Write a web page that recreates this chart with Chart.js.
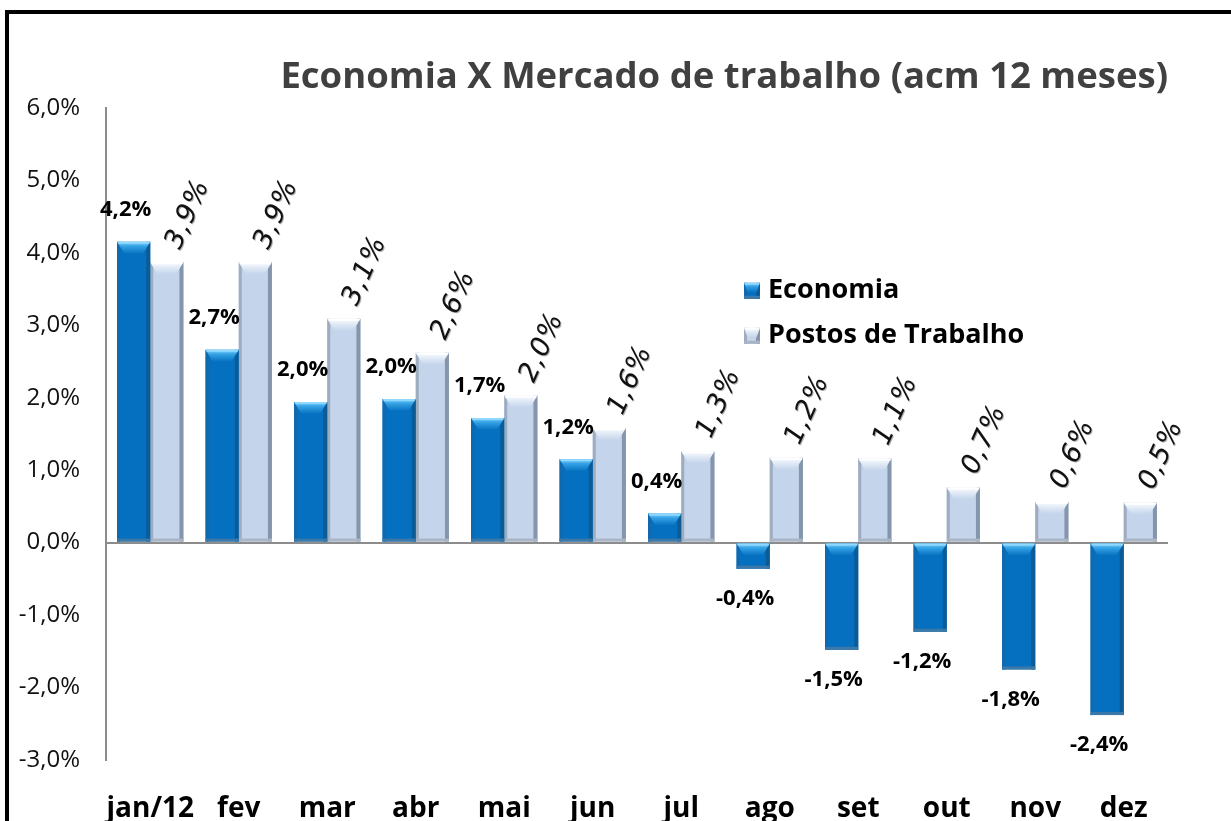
<!DOCTYPE html>
<html>
<head>
<meta charset="utf-8">
<script src="https://cdn.jsdelivr.net/npm/chart.js@4.4.1/dist/chart.umd.min.js"></script>
<style>
  html, body { margin: 0; padding: 0; background: #fff; overflow: hidden; }
  #wrap { position: relative; width: 1231px; height: 821px; }
  #frame { position: absolute; left: 5px; top: 10px; right: -10px; bottom: -10px;
           border-left: 4px solid #000; border-top: 4px solid #000; pointer-events: none; }
  canvas { position: absolute; left: 0; top: 0; }
</style>
</head>
<body>
<div id="wrap">
  <canvas id="mycanvas" width="1231" height="821"></canvas>
  <div id="frame"></div>
</div>
<script>
// chart data
const months = ["jan/12", "fev", "mar", "abr", "mai", "jun", "jul", "ago", "set", "out", "nov", "dez"];
const economia = [4.15, 2.66, 1.94, 1.98, 1.72, 1.15, 0.40, -0.36, -1.48, -1.23, -1.75, -2.38];
const economiaLabels = ["4,2%", "2,7%", "2,0%", "2,0%", "1,7%", "1,2%", "0,4%", "-0,4%", "-1,5%", "-1,2%", "-1,8%", "-2,4%"];
const postos = [3.87, 3.87, 3.09, 2.62, 2.03, 1.58, 1.26, 1.17, 1.16, 0.76, 0.56, 0.55];
const postosLabels = ["3,9%", "3,9%", "3,1%", "2,6%", "2,0%", "1,6%", "1,3%", "1,2%", "1,1%", "0,7%", "0,6%", "0,5%"];
const yTicks = [-3, -2, -1, 0, 1, 2, 3, 4, 5, 6];

const FONT = "'Open Sans', 'Liberation Sans', sans-serif";

// bevel colours per dataset
const bevel = [
  { main: "#0670c0", left: "#1168ab", right: "#0b5b97", hi: "#8fd8ff", mid: "#35a3e6", bottom: "#3c78a8" },
  { main: "#c4d4ea", left: "#9eacc0", right: "#8595ab", hi: "#ffffff", mid: "#e6eef8", bottom: "#a9b5c5" }
];

function drawBevelBar(ctx, left, right, top, bottom, s) {
  let w = right - left, h = bottom - top;
  if (h <= 0) return;
  ctx.fillStyle = s.left;
  ctx.fillRect(left, top, 3, h);
  ctx.fillStyle = s.right;
  ctx.fillRect(right - 4, top, 4, h);
  let d = Math.min(12, h * 0.6);
  let inset = w * 0.22;
  let g = ctx.createLinearGradient(0, top, 0, top + d);
  g.addColorStop(0, s.hi);
  g.addColorStop(0.35, s.mid);
  g.addColorStop(1, s.main);
  ctx.fillStyle = g;
  ctx.beginPath();
  ctx.moveTo(left, top);
  ctx.lineTo(right, top);
  ctx.lineTo(right - inset, top + d);
  ctx.lineTo(left + inset, top + d);
  ctx.closePath();
  ctx.fill();
  ctx.fillStyle = s.hi;
  ctx.fillRect(left + 1, top, w - 2, 2);
  ctx.fillStyle = s.bottom;
  ctx.fillRect(left, bottom - 3, w, 3);
}

const bevelPlugin = {
  id: "bevel",
  afterDatasetDraw(chart, args) {
    let ctx = chart.ctx;
    let s = bevel[args.index];
    ctx.save();
    args.meta.data.forEach(bar => {
      let p = bar.getProps(["x", "y", "base", "width"], true);
      drawBevelBar(ctx, p.x - p.width / 2, p.x + p.width / 2,
        Math.min(p.y, p.base), Math.max(p.y, p.base), s);
    });
    ctx.restore();
  }
};

const labelPlugin = {
  id: "valueLabels",
  afterDatasetsDraw(chart) {
    let ctx = chart.ctx;
    ctx.save();
    // Economia: bold, horizontal
    let m0 = chart.getDatasetMeta(0);
    ctx.font = "bold 22px " + FONT;
    ctx.fillStyle = "#000";
    ctx.textAlign = "center";
    ctx.textBaseline = "middle";
    m0.data.forEach((bar, i) => {
      let v = economia[i];
      let y = v >= 0 ? bar.y - 32 : bar.y + 30;
      ctx.fillText(economiaLabels[i], bar.x - 8, y);
    });
    // Postos: italic, rotated
    let m1 = chart.getDatasetMeta(1);
    ctx.font = "italic 27px 'DejaVu Sans', sans-serif";
    ctx.textAlign = "left";
    ctx.textBaseline = "alphabetic";
    ctx.letterSpacing = "1px";
    m1.data.forEach((bar, i) => {
      ctx.save();
      ctx.translate(bar.x + 13, bar.y - 12);
      ctx.rotate(-66 * Math.PI / 180);
      ctx.shadowColor = "rgba(120,120,120,0.6)";
      ctx.shadowOffsetX = 1;
      ctx.shadowOffsetY = 1;
      ctx.fillStyle = "#111";
      ctx.fillText(postosLabels[i], 0, 0);
      ctx.restore();
    });
    ctx.restore();
  }
};

const legendPlugin = {
  id: "insideLegend",
  afterDraw(chart) {
    let ctx = chart.ctx;
    let x = chart.chartArea.left + 638;
    let y0 = chart.chartArea.top + 183;
    ctx.save();
    ctx.font = "bold 27px " + FONT;
    ctx.textBaseline = "middle";
    ctx.textAlign = "left";
    chart.data.datasets.forEach((ds, i) => {
      let y = y0 + i * 45;
      ctx.fillStyle = bevel[i].main;
      ctx.fillRect(x, y - 8, 16, 16);
      drawBevelBar(ctx, x, x + 16, y - 8, y + 8, bevel[i]);
      ctx.fillStyle = "#000";
      ctx.fillText(ds.label, x + 24, y);
    });
    ctx.restore();
  }
};

let canvas = document.getElementById("mycanvas");

let chartData = {
  labels: months,
  datasets: [
    {
      label: "Economia",
      data: economia,
      backgroundColor: bevel[0].main,
      borderWidth: 0
    },
    {
      label: "Postos de Trabalho",
      data: postos,
      backgroundColor: bevel[1].main,
      borderWidth: 0
    }
  ]
};

let chartOptions = {
  responsive: false,
  animation: false,
  layout: {
    padding: { left: 12, right: 63, top: 0, bottom: 0 }
  },
  datasets: {
    bar: {
      categoryPercentage: 0.75,
      barPercentage: 1.0
    }
  },
  plugins: {
    legend: { display: false },
    tooltip: { enabled: false },
    title: {
      display: true,
      text: "Economia X Mercado de trabalho (acm 12 meses)",
      align: "end",
      color: "#404040",
      font: { family: FONT, size: 36.5, weight: "bold" },
      padding: { top: 56, bottom: 8 }
    }
  },
  scales: {
    x: {
      grid: { display: false },
      border: { display: false },
      ticks: {
        color: "#000",
        font: { family: FONT, size: 28, weight: "bold" },
        padding: 24,
        maxRotation: 0,
        autoSkip: false
      },
      afterFit(scale) { scale.height = 61; }
    },
    y: {
      min: -3,
      max: 6,
      afterBuildTicks(scale) {
        scale.ticks = yTicks.map(v => ({ value: v }));
      },
      grid: {
        drawTicks: false,
        color: ctx => (ctx.tick && ctx.tick.value === 0 ? "#8c8c8c" : "rgba(0,0,0,0)"),
        lineWidth: 2
      },
      border: { display: true, color: "#8c8c8c", width: 2 },
      ticks: {
        color: "#111",
        font: { family: FONT, size: 24 },
        padding: 26,
        callback: v => v.toFixed(1).replace(".", ",") + "%"
      },
      afterFit(scale) { scale.width = 94; }
    }
  }
};

let barChart = new Chart(canvas, {
  type: "bar",
  data: chartData,
  options: chartOptions,
  plugins: [bevelPlugin, labelPlugin, legendPlugin]
});
</script>
</body>
</html>
